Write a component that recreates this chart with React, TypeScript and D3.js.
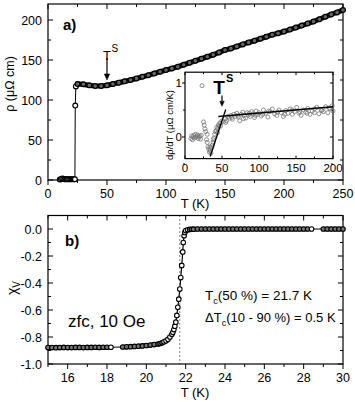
import React from "react";
import * as d3 from "d3";

// panel a) resistivity
const rhoT = [10, 11, 12, 13, 14, 15, 16, 17, 18, 19, 20, 21, 22, 22.8, 23.1, 23.6, 25, 30, 35, 40, 45, 50, 55, 60, 65, 70, 75, 80, 85, 90, 95, 100, 105, 110, 115, 120, 125, 130, 135, 140, 145, 150, 155, 160, 165, 170, 175, 180, 185, 190, 195, 200, 205, 210, 215, 220, 225, 230, 235, 240, 245, 250];
const rhoVal = [0.5, 1, 2, 1.5, 1, 1, 0.8, 0.8, 0.9, 0.8, 0.9, 0.8, 0.9, 1, 93, 117, 120, 119.6, 118.3, 117.5, 117.5, 118.3, 120, 121.7, 123.3, 125, 127, 129, 131, 133, 135.3, 137.5, 139.5, 141.6, 144, 146.5, 149, 151.5, 154, 156.5, 159.5, 162.5, 164.5, 167, 169.5, 172, 174, 176.5, 179, 181.5, 183.5, 185.5, 188, 190.5, 193, 195.5, 198, 201, 204, 207, 209.5, 212.5];

// inset dρ/dT
const insetT = [8, 9, 10, 11, 12, 13, 14, 15, 16, 17, 18, 19, 20, 21, 22, 23, 25, 26, 27, 28, 29, 30, 31, 32, 33, 34, 35, 36, 37, 38, 39, 40, 41, 42, 43, 44, 45, 46, 47, 48, 50, 52, 54, 56, 58, 60, 62, 64, 66, 68, 70, 72, 74, 76, 78, 80, 82, 84, 86, 88, 90, 92, 94, 96, 98, 100, 103, 106, 109, 112, 115, 118, 121, 124, 127, 130, 133, 136, 139, 142, 145, 148, 151, 154, 157, 160, 163, 166, 169, 172, 175, 178, 181, 184, 187, 190, 193, 196, 199, 200, 30, 34, 38, 44, 48, 55, 63, 71, 79, 87, 95, 105, 113, 125, 135, 145, 155, 165, 175, 185, 195];
const insetVal = [-0.03, 0.02, -0.05, 0.0, 0.03, -0.02, 0.05, 0.0, 0.02, 0.04, -0.03, 0.0, 0.02, -0.04, 0.03, 0.95, 0.28, 0.22, 0.15, 0.1, -0.05, -0.1, -0.18, -0.22, -0.28, -0.25, -0.3, -0.2, -0.15, -0.05, -0.02, 0.05, 0.1, 0.12, 0.18, 0.15, 0.22, 0.2, 0.26, 0.25, 0.3, 0.28, 0.34, 0.3, 0.38, 0.35, 0.4, 0.33, 0.42, 0.38, 0.44, 0.37, 0.3, 0.42, 0.46, 0.4, 0.35, 0.45, 0.41, 0.38, 0.47, 0.43, 0.36, 0.48, 0.42, 0.45, 0.39, 0.5, 0.44, 0.37, 0.47, 0.52, 0.43, 0.4, 0.5, 0.45, 0.38, 0.49, 0.44, 0.52, 0.42, 0.47, 0.55, 0.44, 0.4, 0.5, 0.46, 0.53, 0.42, 0.48, 0.45, 0.55, 0.43, 0.5, 0.47, 0.56, 0.45, 0.52, 0.58, 0.48, 0.05, -0.18, -0.1, 0.08, 0.2, 0.27, 0.36, 0.4, 0.34, 0.44, 0.4, 0.42, 0.48, 0.46, 0.42, 0.5, 0.47, 0.44, 0.52, 0.49, 0.54];
const steepT = [34, 55];
const steepVal = [-0.36, 0.51];
const flatT = [45, 200];
const flatVal = [0.38, 0.56];

// panel b) susceptibility
const chiT = [15.0, 15.2, 15.4, 15.6, 15.8, 16.0, 16.2, 16.4, 16.6, 16.8, 17.0, 17.2, 17.4, 17.6, 17.8, 18.0, 18.2, 18.8, 19.0, 19.2, 19.4, 19.6, 19.8, 20.0, 20.2, 20.4, 20.6, 20.7, 20.8, 20.9, 21.0, 21.1, 21.2, 21.3, 21.35, 21.4, 21.45, 21.5, 21.55, 21.6, 21.65, 21.7, 21.75, 21.8, 21.85, 21.88, 21.92, 21.96, 22.0, 22.1, 22.2, 22.3, 22.4, 22.6, 22.8, 23.0, 23.2, 23.4, 23.6, 23.8, 24.0, 24.2, 24.4, 24.6, 24.8, 25.0, 25.2, 25.4, 25.6, 25.8, 26.0, 26.2, 26.4, 26.6, 26.8, 27.0, 27.2, 27.4, 27.6, 27.8, 28.0, 28.2, 28.4, 29.0, 29.2, 29.4, 29.6, 29.8, 30.0];
const chiVal = [-0.878, -0.878, -0.879, -0.878, -0.877, -0.878, -0.878, -0.877, -0.877, -0.878, -0.877, -0.877, -0.876, -0.877, -0.876, -0.876, -0.876, -0.874, -0.873, -0.872, -0.87, -0.868, -0.866, -0.863, -0.86, -0.856, -0.852, -0.848, -0.843, -0.836, -0.828, -0.817, -0.8, -0.78, -0.765, -0.745, -0.72, -0.69, -0.64, -0.58, -0.52, -0.445, -0.36, -0.27, -0.17, -0.1, -0.05, -0.025, -0.012, -0.006, -0.003, -0.002, -0.001, 0, 0, 0, 0, 0, 0, 0, 0, 0, 0, 0, 0, 0, 0, 0, 0, 0, 0, 0, 0, 0, 0, 0, 0, 0, 0, 0, 0, 0, 0, 0, 0, 0, 0, 0, 0];
const tcValue = 21.7;
// temperature stretches where the measured points sit densely
const denseRuns = [[15.0, 18.0], [18.8, 20.8], [22.2, 28.2], [29.0, 30.0]];

const aXTicks = [0, 50, 100, 150, 200, 250];
const aYTicks = [0, 50, 100, 150, 200];
const insetXTicks = [0, 50, 100, 150, 200];
const insetYTicks = [0, 1];
const bXTicks = [16, 18, 20, 22, 24, 26, 28, 30];
const bYTicks = [0, -0.2, -0.4, -0.6, -0.8, -1.0];

const FONT = "'Liberation Sans', Arial, sans-serif";

const Frame = ({ x, y, xMajor, xMinor, yMajor, yMinor, outer, fmtX, fmtY, fs, major = 5, minor = 3 }) => {
  const [x0, x1] = x.range();
  const [y0, y1] = y.range();
  const l = [];
  const inL = outer ? -1 : 1;
  xMajor.forEach((t, i) => {
    l.push(<line key={"bx" + i} x1={x(t)} x2={x(t)} y1={y0} y2={y0 + (outer ? major : -major)} />);
    l.push(<line key={"tx" + i} x1={x(t)} x2={x(t)} y1={y1} y2={y1 + major} />);
  });
  xMinor.forEach((t, i) => {
    l.push(<line key={"bxm" + i} x1={x(t)} x2={x(t)} y1={y0} y2={y0 + (outer ? minor : -minor)} />);
    l.push(<line key={"txm" + i} x1={x(t)} x2={x(t)} y1={y1} y2={y1 + minor} />);
  });
  yMajor.forEach((t, i) => {
    l.push(<line key={"ly" + i} x1={x0} x2={x0 - inL * major} y1={y(t)} y2={y(t)} />);
    l.push(<line key={"ry" + i} x1={x1} x2={x1 - major} y1={y(t)} y2={y(t)} />);
  });
  yMinor.forEach((t, i) => {
    l.push(<line key={"lym" + i} x1={x0} x2={x0 - inL * minor} y1={y(t)} y2={y(t)} />);
    l.push(<line key={"rym" + i} x1={x1} x2={x1 - minor} y1={y(t)} y2={y(t)} />);
  });
  return (
    <g>
      <g stroke="#000" strokeWidth={1}>{l}</g>
      <rect x={x0} y={y1} width={x1 - x0} height={y0 - y1} fill="none" stroke="#000" strokeWidth={1.2} />
      <g fontFamily={FONT} fontSize={fs} fill="#000">
        {xMajor.map((t, i) => (
          <text key={"xl" + i} x={x(t)} y={y0 + (outer ? fs + 5 : fs + 2)} textAnchor="middle">{fmtX(t)}</text>
        ))}
        {yMajor.map((t, i) => (
          <text key={"yl" + i} x={x0 - (outer ? 6 : 3)} y={y(t) + fs * 0.36} textAnchor="end">{fmtY(t)}</text>
        ))}
      </g>
    </g>
  );
};

const Arrow = ({ x, y1, y2, head }) => (
  <g stroke="#000" fill="#000">
    <line x1={x} x2={x} y1={y1} y2={y2 - head} strokeWidth={1.2} />
    <path d={`M${x - head * 0.45},${y2 - head} L${x + head * 0.45},${y2 - head} L${x},${y2} Z`} strokeWidth={0.5} />
  </g>
);

export default function App() {
  const xA = d3.scaleLinear().domain([0, 250]).range([48, 343]);
  const yA = d3.scaleLinear().domain([0, 220]).range([180, 4]);
  const xI = d3.scaleLinear().domain([0, 200]).range([185, 333]);
  const yI = d3.scaleLinear().domain([-0.4, 1.2]).range([158.6, 72.2]);
  const xB = d3.scaleLinear().domain([15, 30]).range([48, 343]);
  const yB = d3.scaleLinear().domain([-1, 0.1]).range([364, 215.5]);

  const rho = rhoT.map((t, i) => [t, rhoVal[i]]);
  const rhoLine = d3.line().x((d) => xA(d[0])).y((d) => yA(d[1]));
  const band = rho.filter((d) => d[0] >= 23.6);
  const chi = chiT.map((t, i) => [t, chiVal[i]]);
  const chiLine = d3.line().x((d) => xB(d[0])).y((d) => yB(d[1]));

  const fmt1 = (v) => d3.format(".1f")(v).replace("−", "-");
  const range = (a, b, s) => d3.range(a, b + s / 2, s);

  return (
    <svg width={355} height={402} style={{ position: "absolute", left: 0, top: 0, background: "#fff" }}>
      {/* panel a */}
      <Frame x={xA} y={yA} xMajor={aXTicks} xMinor={range(25, 225, 50)} yMajor={aYTicks} yMinor={range(25, 200, 50)}
        outer fmtX={(v) => String(v)} fmtY={(v) => String(v)} fs={12.5} />
      <path d={rhoLine(rho)} fill="none" stroke="#000" strokeWidth={1} />
      <path d={rhoLine(band)} fill="none" stroke="#111" strokeWidth={5.2} />
      {rho.map((d, i) => (
        <circle key={i} cx={xA(d[0])} cy={yA(d[1])} r={2.4} fill={d[0] >= 25 ? "#666" : "#fff"} stroke="#000" strokeWidth={1.2} />
      ))}
      <text x={63} y={30} fontFamily={FONT} fontWeight="bold" fontSize={15}>a)</text>
      <text x={xA(50)} y={yA(150)} fontFamily={FONT} fontSize={13} textAnchor="middle">T</text>
      <text x={xA(50) + 4.5} y={yA(160)} fontFamily={FONT} fontSize={10}>S</text>
      <Arrow x={xA(50)} y1={yA(150) - 2} y2={yA(125)} head={6} />
      <text transform="translate(14,84) rotate(-90)" fontFamily={FONT} fontSize={12.5} textAnchor="middle">ρ (μΩ cm)</text>
      <text x={195} y={208} fontFamily={FONT} fontSize={13} textAnchor="middle">T (K)</text>

      {/* inset */}
      <rect x={185} y={72.2} width={148} height={86.4} fill="#fff" />
      <Frame x={xI} y={yI} xMajor={insetXTicks} xMinor={range(25, 175, 50)} yMajor={insetYTicks} yMinor={[-0.5, 0.5]}
        outer={false} fmtX={(v) => String(v)} fmtY={(v) => String(v)} fs={11.5} major={3} minor={2} />
      {insetT.map((t, i) => (
        <circle key={i} cx={xI(t)} cy={yI(insetVal[i])} r={2} fill="none" stroke="#777" strokeWidth={0.8} />
      ))}
      <line x1={xI(steepT[0])} x2={xI(steepT[1])} y1={yI(steepVal[0])} y2={yI(steepVal[1])} stroke="#000" strokeWidth={1.3} />
      <line x1={xI(flatT[0])} x2={xI(flatT[1])} y1={yI(flatVal[0])} y2={yI(flatVal[1])} stroke="#000" strokeWidth={1.3} />
      <text x={xI(46)} y={yI(0.8)} fontFamily={FONT} fontWeight="bold" fontSize={19} textAnchor="middle">T</text>
      <text x={xI(46) + 7} y={yI(1.02)} fontFamily={FONT} fontWeight="bold" fontSize={11}>S</text>
      <Arrow x={xI(50)} y1={yI(0.77)} y2={yI(0.57)} head={5} />
      <text transform="translate(173,125) rotate(-90)" fontFamily={FONT} fontSize={9.5} textAnchor="middle">dρ/dT (μΩ cm/K)</text>

      {/* panel b */}
      <line x1={xB(tcValue)} x2={xB(tcValue)} y1={yB(0.1)} y2={yB(-1)} stroke="#000" strokeWidth={1} strokeDasharray="1,3" />
      <Frame x={xB} y={yB} xMajor={bXTicks} xMinor={range(15, 29, 2)} yMajor={bYTicks} yMinor={range(-0.9, -0.1, 0.2).concat([0.1])}
        outer fmtX={(v) => String(v)} fmtY={fmt1} fs={12.5} />
      <path d={chiLine(chi)} fill="none" stroke="#000" strokeWidth={1.2} />
      {denseRuns.map(([a, b], i) => (
        <path key={i} d={chiLine(chi.filter((d) => d[0] >= a && d[0] <= b))} fill="none" stroke="#222" strokeWidth={4.6} />
      ))}
      {chi.map((d, i) => {
        const dense = denseRuns.some(([a, b]) => d[0] >= a && d[0] <= b);
        return (
          <circle key={i} cx={xB(d[0])} cy={yB(d[1])} r={2.3} fill={dense ? "#777" : "#fff"} stroke="#000" strokeWidth={1.1} />
        );
      })}
      <text x={65} y={246} fontFamily={FONT} fontWeight="bold" fontSize={15}>b)</text>
      <text x={68} y={327} fontFamily={FONT} fontSize={17}>zfc, 10 Oe</text>
      <text x={205} y={300} fontFamily={FONT} fontSize={13.5}>
        T<tspan fontSize={9} dy={4}>c</tspan><tspan dy={-4}>(50 %) = 21.7 K</tspan>
      </text>
      <text x={205} y={322} fontFamily={FONT} fontSize={13}>
        ΔT<tspan fontSize={9} dy={4}>c</tspan><tspan dy={-4}>(10 - 90 %) = 0.5 K</tspan>
      </text>
      <text transform="translate(17,288) rotate(-90)" fontFamily={FONT} fontSize={14} textAnchor="middle">
        χ<tspan fontSize={10} dy={3}>V</tspan>
      </text>
      <text x={195} y={397} fontFamily={FONT} fontSize={13} textAnchor="middle">T (K)</text>
    </svg>
  );
}
